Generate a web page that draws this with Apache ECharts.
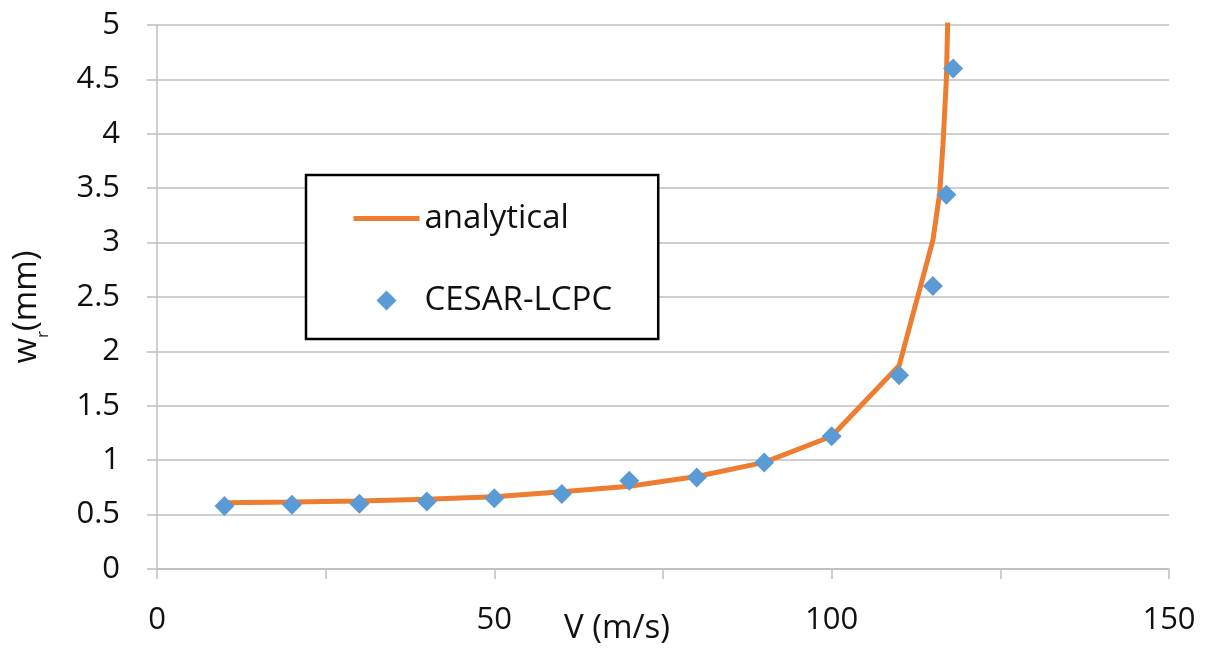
<!DOCTYPE html>
<html><head><meta charset="utf-8">
<script src="https://cdn.jsdelivr.net/npm/echarts@6/dist/echarts.min.js"></script>
<style>html,body{margin:0;padding:0;background:#fff}#c{width:1213px;height:648px}</style>
</head><body><div id="c"></div>
<script>
// Analytical curve (V in m/s, w_r in mm)
const analyticalV = [10, 20, 30, 40, 50, 60, 70, 80, 90, 100, 110, 115, 116, 116.5, 117, 117.3];
const analyticalW = [0.61, 0.615, 0.625, 0.64, 0.665, 0.71, 0.76, 0.85, 0.98, 1.22, 1.87, 3.02, 3.45, 3.9, 4.5, 5.3];
// CESAR-LCPC numerical results
const cesarV = [10, 20, 30, 40, 50, 60, 70, 80, 90, 100, 110, 115, 117, 118];
const cesarW = [0.58, 0.59, 0.60, 0.62, 0.65, 0.69, 0.81, 0.84, 0.98, 1.22, 1.78, 2.60, 3.44, 4.60];
const xTickLabels = ['0', '50', '100', '150'];
const yTickStep = 0.5;

const chart = echarts.init(document.getElementById('c'));
const FONT = 'Open Sans';
// diamond icon centred in a 66x22 box (invisible move-to points set the box)
const DIAMOND_ICON = 'path://M0,0 M66,22 M33,1 L43,11 L33,21 L23,11 Z';
chart.setOption({
  animation: false,
  backgroundColor: '#fff',
  grid: { left: 157, right: 44, top: 25, bottom: 79, outerBoundsMode: 'none', containLabel: false },
  legend: {
    orient: 'vertical',
    left: 306, top: 175,
    padding: [27, 46, 22, 45],
    itemWidth: 66, itemHeight: 22, itemGap: 49,
    borderColor: '#000', borderWidth: 2.5,
    backgroundColor: '#fff',
    textStyle: { fontFamily: FONT, fontSize: 33, color: '#111' },
    data: [
      { name: 'analytical', itemStyle: { opacity: 0 }, lineStyle: { width: 5, color: '#ED7D31' } },
      { name: 'CESAR-LCPC', icon: DIAMOND_ICON, itemStyle: { color: '#5B9BD5', opacity: 1 } }
    ]
  },
  xAxis: {
    type: 'value', min: 0, max: 150, interval: 25,
    name: 'V (m/s)', nameLocation: 'middle', nameGap: 43, nameMoveOverlap: false,
    nameTextStyle: { fontFamily: FONT, fontSize: 33, color: '#111', padding: [0, 92, 0, 0] },
    axisLine: { show: true, lineStyle: { color: '#bfbfbf', width: 1.5 } },
    axisTick: { show: true, length: 10, lineStyle: { color: '#bfbfbf', width: 1.5 } },
    splitLine: { show: false },
    axisLabel: {
      margin: 36, fontFamily: FONT, fontSize: 31, color: '#111',
      formatter: v => (xTickLabels.indexOf(String(v)) >= 0 ? String(v) : '')
    }
  },
  yAxis: {
    type: 'value', min: 0, max: 5, interval: yTickStep,
    name: 'w{s|r}(mm)', nameLocation: 'middle', nameGap: 114, nameRotate: 90, nameMoveOverlap: false,
    nameTextStyle: { fontFamily: FONT, fontSize: 33, color: '#111', padding: [0, 20, 0, 0],
      rich: { s: { fontFamily: FONT, fontSize: 17, color: '#111', verticalAlign: 'bottom', padding: [0, 0, -9, 0] } } },
    axisLine: { show: true, lineStyle: { color: '#bfbfbf', width: 1.5 } },
    axisTick: { show: true, length: 10, lineStyle: { color: '#bfbfbf', width: 1.5 } },
    splitLine: { show: true, lineStyle: { color: '#bfbfbf', width: 1.5 } },
    axisLabel: { margin: 37, fontFamily: FONT, fontSize: 31, color: '#111' }
  },
  series: [
    {
      name: 'analytical', type: 'line', showSymbol: false, symbol: 'none',
      clip: true,
      lineStyle: { color: '#ED7D31', width: 5 },
      itemStyle: { color: '#ED7D31' },
      data: analyticalV.map((v, i) => [v, analyticalW[i]]),
      z: 2
    },
    {
      name: 'CESAR-LCPC', type: 'scatter', symbol: 'diamond', symbolSize: 20,
      itemStyle: { color: '#5B9BD5', opacity: 1 },
      data: cesarV.map((v, i) => [v, cesarW[i]]),
      z: 3
    }
  ]
});
</script></body></html>
